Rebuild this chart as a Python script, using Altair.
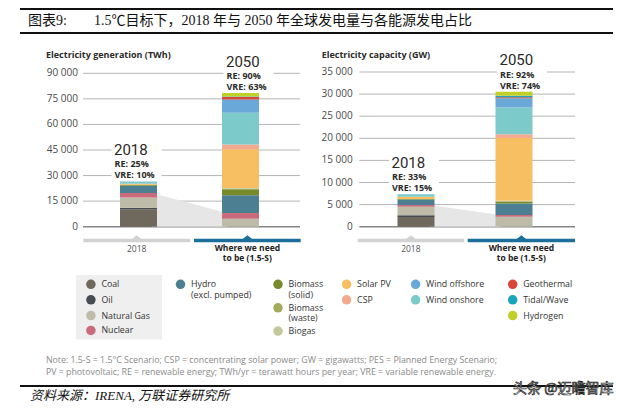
import altair as alt
import pandas as pd

# ---------------- data ----------------
SOURCES = ["Coal", "Oil", "Natural Gas", "Nuclear", "Hydro (excl. pumped)",
           "Biomass (solid)", "Biomass (waste)", "Biogas", "Solar PV", "CSP",
           "Wind onshore", "Wind offshore", "Geothermal", "Tidal/Wave", "Hydrogen"]
COLORS = ["#6f685d", "#474c52", "#bebca9", "#c96b7b", "#4d7f93",
          "#798a2c", "#a2ab5c", "#c4c89a", "#f8be62", "#f3aa91",
          "#7ccaca", "#69a8d8", "#d8473a", "#19a5b8", "#bfd02b"]
NON_RENEWABLE = ["Coal", "Oil", "Natural Gas", "Nuclear"]

# Electricity generation (TWh)
GEN_2018 = [10200, 900, 6000, 2600, 4300, 450, 100, 90, 560, 12, 1200, 70, 90, 1, 0]
GEN_2050 = [0, 0, 4600, 3500, 10300, 3500, 400, 400, 22800, 2700, 18700, 7800, 1360, 400, 1950]
# Electricity capacity (GW)
CAP_2018 = [2200, 400, 1900, 400, 1250, 100, 20, 20, 480, 5, 540, 23, 13, 1, 0]
CAP_2050 = [0, 0, 2270, 380, 2580, 450, 100, 100, 14180, 830, 6060, 2120, 230, 300, 910]

YEARS = ["2018", "2050"]
GEN_RE = ["RE: 25%", "RE: 90%"]
GEN_VRE = ["VRE: 10%", "VRE: 63%"]
CAP_RE = ["RE: 33%", "RE: 92%"]
CAP_VRE = ["VRE: 15%", "VRE: 74%"]

GEN_TICKS = [0, 15000, 30000, 45000, 60000, 75000, 90000]
GEN_TICK_LABELS = ["0", "15 000", "30 000", "45 000", "60 000", "75 000", "90 000"]
CAP_TICKS = [0, 5000, 10000, 15000, 20000, 25000, 30000, 35000]
CAP_TICK_LABELS = ["0", "5 000", "10 000", "15 000", "20 000", "25 000", "30 000", "35 000"]

CAT_LEFT = "2018"
CAT_RIGHT = "Where we need\nto be (1.5-S)"

LEGEND_COLUMNS = [["Coal", "Oil", "Natural Gas", "Nuclear"],
                  ["Hydro (excl. pumped)"],
                  ["Biomass (solid)", "Biomass (waste)", "Biogas"],
                  ["Solar PV", "CSP"],
                  ["Wind offshore", "Wind onshore"],
                  ["Geothermal", "Tidal/Wave", "Hydrogen"]]
LEGEND_LINES = {"Hydro (excl. pumped)": "Hydro\n(excl. pumped)",
                "Biomass (solid)": "Biomass\n(solid)",
                "Biomass (waste)": "Biomass\n(waste)"}

TITLE_A = "图表9:"
TITLE_B = "1.5℃目标下，2018 年与 2050 年全球发电量与各能源发电占比"
NOTE = ("Note: 1.5-S = 1.5°C Scenario; CSP = concentrating solar power; GW = gigawatts; PES = Planned Energy Scenario;\n"
        "PV = photovoltaic; RE = renewable energy; TWh/yr = terawatt hours per year; VRE = variable renewable energy.")
SOURCE = "资料来源：IRENA, 万联证券研究所"
WATERMARK = "头条 @迈瞻智库"

# ---------------- layout (pixels) ----------------
W, H = 624, 395
FONT = "Open Sans"
CJK = "Liberation Serif, Noto Sans CJK SC"
LEG_COL_X = [82.9, 172.5, 270, 338.6, 407.6, 504.7]
LEG_ROW_Y = [[276.3, 291.8, 307.6, 322.4], [276.3], [276.3, 299.8, 323.1],
             [276.3, 291.8], [276.3, 291.8], [276.3, 291.8, 307.6]]

PANELS = {
    "gen": dict(x_range=[125.5, 237.5], y_range=[218.7, 65.3], y_domain=[0, 90000],
                grid_x=[75, 292], label_x=70, title_x=38, half=0.165,
                gray=[75.3, 182], blue=[186, 292.7], title="Electricity generation (TWh)"),
    "cap": dict(x_range=[403, 511], y_range=[218.7, 64], y_domain=[0, 35000],
                grid_x=[351.3, 567], label_x=344.7, title_x=313.7, half=0.171,
                gray=[349.7, 456], blue=[459.7, 567], title="Electricity capacity (GW)"),
}

ONE = pd.DataFrame({"k": [0]})
color_scale = alt.Scale(domain=SOURCES, range=COLORS)


def hline(x1, x2, y, color, w):
    return alt.Chart(ONE).mark_rule(color=color, strokeWidth=w).encode(
        x=alt.value(x1), x2=alt.value(x2), y=alt.value(y))


def label(txt, x, y, size, color="#333", weight="normal", align="left", font=FONT, **kw):
    return alt.Chart(ONE).mark_text(text=txt, fontSize=size, color=color, fontWeight=weight,
                                    align=align, baseline="middle", font=font, **kw).encode(
        x=alt.value(x), y=alt.value(y))


def panel(cfg, v18, v50, ticks, tick_labels, re_l, vre_l):
    xs = alt.Scale(domain=[0, 1], range=cfg["x_range"])
    ys = alt.Scale(domain=cfg["y_domain"], range=cfg["y_range"], nice=False, zero=False)

    def X(f):
        return alt.X(f, scale=xs, axis=None)

    def Y(f):
        return alt.Y(f, scale=ys, axis=None)

    layers = []
    gdf = pd.DataFrame({"tick": ticks, "label": tick_labels})
    layers.append(alt.Chart(gdf).mark_rule().encode(
        y=Y("tick:Q"), x=alt.value(cfg["grid_x"][0]), x2=alt.value(cfg["grid_x"][1]),
        color=alt.condition(alt.datum.tick == 0, alt.value("#858585"), alt.value("#b5b5b5")),
        strokeWidth=alt.condition(alt.datum.tick == 0, alt.value(1.6), alt.value(1))))
    layers.append(alt.Chart(gdf).mark_text(align="right", baseline="middle", fontSize=10,
                                           color="#4a4a4a", font=FONT).encode(
        y=Y("tick:Q"), x=alt.value(cfg["label_x"]), text="label:N"))

    nr = [sum(v for s, v in zip(SOURCES, vals) if s in NON_RENEWABLE) for vals in (v18, v50)]
    cdf = pd.DataFrame({"pos": [0, 1], "value": nr})
    h = cfg["half"]
    layers.append(alt.Chart(cdf).transform_calculate(
        edge=f"datum.pos == 0 ? {h} : {1 - h}").mark_area(color="#e6e6e6").encode(
        x=X("edge:Q"), y=Y("value:Q"), y2=alt.datum(0)))

    rows = []
    for pos, vals in enumerate([v18, v50]):
        for k, (s, v) in enumerate(zip(SOURCES, vals)):
            rows.append({"pos": pos, "source": s, "value": v, "ord": k})
    layers.append(alt.Chart(pd.DataFrame(rows)).transform_stack(
        stack="value", groupby=["pos"], as_=["y0", "y1"], sort=[alt.SortField("ord")]
    ).mark_bar(size=37).encode(
        x=X("pos:Q"), y=Y("y1:Q"), y2="y0:Q",
        color=alt.Color("source:N", scale=color_scale, legend=None)))

    adf = pd.DataFrame({"pos": [0, 1], "total": [sum(v18), sum(v50)], "year": YEARS,
                        "share": [f"{a}\n{b}" for a, b in zip(re_l, vre_l)]})
    base = alt.Chart(adf)
    layers.append(base.mark_rect(color="white", xOffset=-22, x2Offset=28,
                                 yOffset=-42, y2Offset=-1.5).encode(
        x=X("pos:Q"), x2="pos:Q", y=Y("total:Q"), y2="total:Q"))
    layers.append(base.mark_text(align="left", baseline="alphabetic", dx=-19.5, dy=-26.5,
                                 fontSize=15, font="Roboto", color="#2a2a2a").encode(
        x=X("pos:Q"), y=Y("total:Q"), text="year:N"))
    layers.append(base.mark_text(align="left", baseline="middle", dx=-19, dy=-17,
                                 lineBreak="\n", lineHeight=10.8,
                                 fontSize=9, fontWeight="bold", font=FONT, color="#2a2a2a").encode(
        x=X("pos:Q"), y=Y("total:Q"), text="share:N"))

    layers.append(label(cfg["title"], cfg["title_x"], 47, 9, color="#2a2a2a", weight="bold"))

    g0, g1 = cfg["gray"]
    b0, b1 = cfg["blue"]
    layers.append(hline(g0, g1, 232.5, "#d2d2d2", 3.5))
    layers.append(hline(b0, b1, 232.5, "#1c6f9b", 3.5))
    notch = "M -1 0 L 0 -0.8 L 1 0 Z"
    for cx, col in [((g0 + g1) / 2, "#d2d2d2"), ((b0 + b1) / 2, "#1c6f9b")]:
        layers.append(alt.Chart(ONE).mark_point(shape=notch, size=100, filled=True,
                                                color=col, opacity=1).encode(
            x=alt.value(cx), y=alt.value(231.2)))
    layers.append(label(CAT_LEFT, (g0 + g1) / 2, 241, 8.5, color="#555", align="center"))
    layers.append(label(CAT_RIGHT, (b0 + b1) / 2, 240, 8.5, color="#222",
                        weight="bold", align="center", lineBreak="\n", lineHeight=10.2))
    return layers


layers = []
# header
layers.append(hline(12, 605, 1, "#111", 2))
layers.append(hline(12, 605, 25, "#111", 2))
layers.append(label(TITLE_A, 20, 12.5, 14, color="#111", font=CJK))
layers.append(label(TITLE_B, 86, 12.5, 14, color="#111", font=CJK))

layers += panel(PANELS["gen"], GEN_2018, GEN_2050, GEN_TICKS, GEN_TICK_LABELS, GEN_RE, GEN_VRE)
layers += panel(PANELS["cap"], CAP_2018, CAP_2050, CAP_TICKS, CAP_TICK_LABELS, CAP_RE, CAP_VRE)

# legend
layers.append(alt.Chart(ONE).mark_rect(color="#efefef").encode(
    x=alt.value(68.1), x2=alt.value(154.1), y=alt.value(267), y2=alt.value(331.6)))
lrows = []
for ci, names in enumerate(LEGEND_COLUMNS):
    for ri, name in enumerate(names):
        txt = LEGEND_LINES.get(name, name)
        lrows.append({"source": name, "txt": txt,
                      "lx": LEG_COL_X[ci], "ly": LEG_ROW_Y[ci][ri]})
ldf = pd.DataFrame(lrows)
lbase = alt.Chart(ldf)
LX = alt.X("lx:Q", scale=None)
LY = alt.Y("ly:Q", scale=None)
layers.append(lbase.mark_point(shape="circle", filled=True, size=90, opacity=1).encode(
    x=LX, y=LY, color=alt.Color("source:N", scale=color_scale, legend=None)))
layers.append(lbase.mark_text(
    align="left", baseline="middle", dx=10.5, lineBreak="\n", lineHeight=10.5,
    fontSize=8.8, font=FONT, color="#333").encode(
    x=LX, y=LY, text="txt:N"))

# notes & footer
layers.append(label(NOTE, 37.9, 352.3, 8.8, color="#8a8a8a", lineBreak="\n", lineHeight=11.7))
layers.append(hline(12, 605, 378, "#111", 2))
layers.append(label(SOURCE, 22, 388, 13, color="#111", font=CJK, fontStyle="italic"))
layers.append(label(WATERMARK, 505, 381, 14, color="white", font="Noto Sans CJK SC",
                    stroke="#222", strokeWidth=0.7))

chart = alt.layer(*layers).resolve_scale(
    x="independent", y="independent", color="independent"
).properties(
    width=W, height=H, padding=0, background="white",
    autosize=alt.AutoSizeParams(type="none")
).configure_view(stroke=None)

chart.save("out.html", embed_options={"renderer": "svg", "actions": False})
